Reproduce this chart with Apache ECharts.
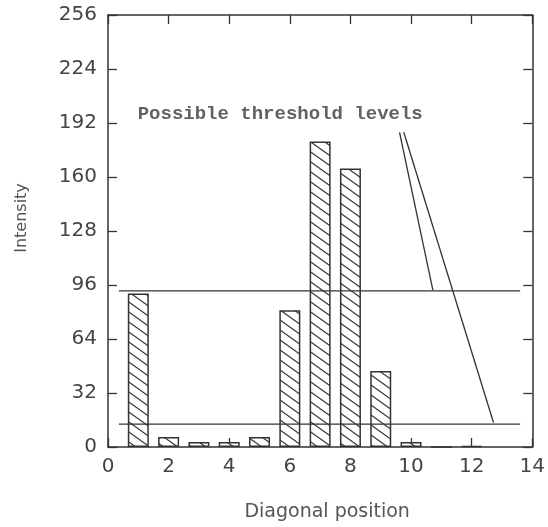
<!DOCTYPE html>
<html>
<head>
<meta charset="utf-8">
<script src="https://cdn.jsdelivr.net/npm/echarts@6/dist/echarts.min.js"></script>
<style>
  html, body { margin: 0; padding: 0; background: #fff; }
  #chart { width: 548px; height: 527px; }
</style>
</head>
<body>
<div id="chart"></div>
<script>
// diagonal positions and intensities
const positions = [1, 2, 3, 4, 5, 6, 7, 8, 9, 10, 11, 12];
const intensities = [91, 6, 3, 3, 6, 81, 181, 165, 45, 3, 0, 0.6];

// the two threshold levels, drawn across the plot
const thresholds = [92.5, 13.5];
const thresholdSpan = [0.36, 13.6];

// label and its two pointer lines
const noteText = "Possible threshold levels";
const notePos = [0.98, 197];
const pointerA = [[9.62, 186.5], [10.72, 93]];
const pointerB = [[9.76, 186.5], [12.72, 14.5]];

const xTicks = [0, 2, 4, 6, 8, 10, 12, 14];
const yTicks = [0, 32, 64, 96, 128, 160, 192, 224, 256];

const ink = "#333";

// hatch tile: "\" lines
const makeHatch = () => {
  const c = document.createElement("canvas");
  c.width = 14;
  c.height = 10;
  const g = c.getContext("2d");
  g.fillStyle = "#fff";
  g.fillRect(0, 0, 14, 10);
  g.strokeStyle = "#3a3a3a";
  g.lineWidth = 1.2;
  g.beginPath();
  g.moveTo(-14, -10); g.lineTo(14, 10);
  g.moveTo(0, -10); g.lineTo(28, 10);
  g.moveTo(-14, 0); g.lineTo(14, 20);
  g.stroke();
  return c;
};

const chart = echarts.init(document.getElementById("chart"));

const barData = positions.map((p, i) => [p, intensities[i]]);
const lineStyle = { color: ink, width: 1.3 };

const thresholdSeries = thresholds.map((t) => ({
  type: "line",
  data: [[thresholdSpan[0], t], [thresholdSpan[1], t]],
  symbol: "none",
  lineStyle: lineStyle,
  silent: true,
  z: 5
}));

const axisCommon = () => ({
  axisLine: { show: true, onZero: false, lineStyle: { color: ink, width: 1.5 } },
  axisTick: { show: true, inside: true, length: 9, lineStyle: { color: ink, width: 1.3 } },
  splitLine: { show: false }
});

chart.setOption({
  animation: false,
  backgroundColor: "#fff",
  grid: { left: 108, right: 12, top: 15, bottom: 80 },
  xAxis: [
    Object.assign({
      type: "value", min: xTicks[0], max: xTicks[xTicks.length - 1], interval: 2,
      position: "bottom",
      axisLabel: { color: "#444", fontFamily: "DejaVu Sans", fontSize: 20, margin: 10 },
      name: "Diagonal position", nameLocation: "middle", nameGap: 56,
      nameTextStyle: { color: "#555", fontFamily: "DejaVu Sans", fontSize: 19, padding: [0, 0, 0, 14] }
    }, axisCommon()),
    Object.assign({
      type: "value", min: xTicks[0], max: xTicks[xTicks.length - 1], interval: 2,
      position: "top", axisLabel: { show: false }
    }, axisCommon())
  ],
  yAxis: [
    Object.assign({
      type: "value", min: yTicks[0], max: yTicks[yTicks.length - 1], interval: 32,
      position: "left",
      axisLabel: { color: "#444", fontFamily: "DejaVu Sans", fontSize: 20, margin: 11 },
      name: "Intensity", nameLocation: "middle", nameGap: 78, nameRotate: 90,
      nameTextStyle: { color: "#555", fontFamily: "DejaVu Sans", fontSize: 16, padding: [0, 0, 0, 26] }
    }, axisCommon()),
    Object.assign({
      type: "value", min: yTicks[0], max: yTicks[yTicks.length - 1], interval: 32,
      position: "right", axisLabel: { show: false }
    }, axisCommon())
  ],
  series: [
    {
      type: "bar",
      data: barData,
      barWidth: 21,
      itemStyle: {
        color: { image: makeHatch(), repeat: "repeat" },
        borderColor: ink,
        borderWidth: 1.5
      },
      z: 3
    },
    ...thresholdSeries,
    {
      type: "line", data: pointerA, symbol: "none", lineStyle: lineStyle, silent: true, z: 5
    },
    {
      type: "line", data: pointerB, symbol: "none", lineStyle: lineStyle, silent: true, z: 5
    },
    {
      type: "scatter",
      data: [notePos],
      symbolSize: 0,
      label: {
        show: true,
        position: "right",
        distance: 0,
        formatter: noteText,
        color: "#3a3a3a",
        fontFamily: "Liberation Mono",
        fontWeight: "bold",
        fontSize: 19
      },
      silent: true,
      z: 6
    }
  ]
});
</script>
</body>
</html>
